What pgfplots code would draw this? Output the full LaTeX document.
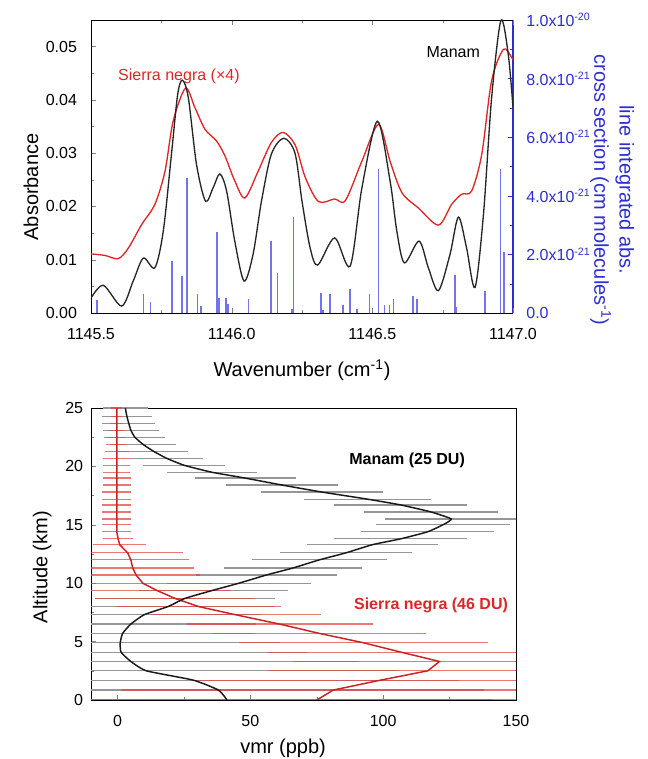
\documentclass[border=0pt]{standalone}
\usepackage{fontspec}
\setmainfont{Liberation Sans}
\usepackage{pgfplots}
\usepackage{pgfplotstable}
\pgfplotsset{compat=1.18}

\definecolor{mred}{RGB}{222,38,38}
\definecolor{mblue}{RGB}{45,45,210}
\definecolor{stick}{RGB}{115,115,240}
\definecolor{barred}{RGB}{228,72,72}
\definecolor{bargray}{RGB}{150,150,150}

% altitude profiles: alt, Manam vmr, Manam err, Sierra negra vmr, Sierra negra err
\pgfplotstableread{
alt   man    me    sn     se
25.0  2.9    8.5   -0.3   2
24.3  3.5    9.3   -0.3   2
23.7  4.2    10    -0.3   2.5
23.1  5.0    10.5  -0.3   3
22.5  6.5    11.5  -0.3   3.5
21.9  9.5    12.5  -0.3   4
21.3  13.5   13    -0.3   4.5
20.7  18.4   13.8  -0.3   5
20.1  25     15.5  -0.3   5
19.5  35.5   17    -0.3   5
19.0  48     19    -0.3   5.2
18.4  62     21    -0.3   5.3
17.8  77     23    -0.3   5.5
17.2  94     24    -0.3   5.5
16.7  106.6  25    -0.3   5.5
16.1  118    25.4  -0.3   5.5
15.5  125.6  25    -0.3   5.5
15.0  122.5  25.3  -0.3   5.5
14.4  116.7  25    -0.3   5.5
13.8  106.6  25    0.2    5.5
13.3  96     24.7  0.8    10
12.6  86     25    3.8    21
12.0  76     25.5  5.0    22
11.3  66     26    5.7    23
10.7  56     26.5  7.0    24
10.0  45.7   27    9.5    26
9.4   36     28    14.6   28
8.7   25.4   34    21.6   30
8.0   19     40    30.5   31
7.3   10     44    44.4   32
6.5   5      47    61     35
5.7   1.9    50    76     40
4.9   1.0    60    92.6   47
4.1   1.3    70    106.6  50
3.3   5      86    121.2  55
2.5   10.8   95    116.8  60
1.7   28.5   100   99     70
0.85  38     100   81.2   80
0.0   41.2   100   75     85
}\prof

\begin{document}
\begin{tikzpicture}
\useasboundingbox (0,0) rectangle (485.25pt,569.25pt);

% ---- top panel: line strengths (right axis) ----
\begin{axis}[
  at={(68.25pt,334.5pt)}, anchor=south west,
  width=316.5pt, height=219.75pt, scale only axis,
  xmin=1145.5, xmax=1147.0, ymin=0, ymax=10,
  axis x line=none, axis y line*=right,
  ytick pos=right, yticklabel pos=right,
  ytick={0,2,4,6,8,10}, minor ytick={1,3,5,7,9},
  yticklabels={0.0,2.0x10\textsuperscript{-21},4.0x10\textsuperscript{-21},6.0x10\textsuperscript{-21},8.0x10\textsuperscript{-21},1.0x10\textsuperscript{-20}},
  tick align=inside, major tick length=4pt, minor tick length=2.5pt,
  y axis line style={-, mblue, line width=0.8pt},
  every tick/.append style={mblue},
  yticklabel style={mblue, font=\fontsize{12}{14}\selectfont, xshift=6.5pt},
  ylabel={line integrated abs.\\cross section (cm molecules\textsuperscript{-1})},
  ylabel style={mblue, font=\fontsize{15}{19}\selectfont, align=center,
    at={(axis description cs:1.235,0.42)}, anchor=center, rotate=180},
]
\addplot[ycomb, stick, mark=none, line width=1.2pt] coordinates {
(1145.522,0.43) (1145.687,0.66) (1145.711,0.38) (1145.788,1.77) (1145.824,1.26)
(1145.842,4.62) (1145.879,0.66) (1145.891,0.24) (1145.948,2.76) (1145.956,0.51)
(1145.980,0.51) (1145.986,0.32) (1146.060,0.49) (1146.140,2.45) (1146.163,1.38)
(1146.215,0.15) (1146.220,3.28) (1146.317,0.69) (1146.324,0.10) (1146.350,0.66)
(1146.395,0.26) (1146.421,0.83) (1146.445,0.15) (1146.490,0.66) (1146.522,4.93)
(1146.543,0.28) (1146.561,0.28) (1146.575,0.49) (1146.644,0.58) (1146.658,0.49)
(1146.794,1.29) (1146.797,0.20) (1146.900,0.74) (1146.956,4.93) (1146.968,2.08)
};
\end{axis}

% ---- top panel: spectra ----
\begin{axis}[
  at={(68.25pt,334.5pt)}, anchor=south west,
  width=316.5pt, height=219.75pt, scale only axis,
  xmin=1145.5, xmax=1147.0, ymin=0, ymax=0.055,
  axis y line*=left, y axis line style={-},
  xtick={1145.5,1146,1146.5,1147}, minor xtick={1145.75,1146.25,1146.75},
  ytick={0,0.01,0.02,0.03,0.04,0.05}, minor ytick={0.005,0.015,0.025,0.035,0.045},
  xtick pos=both, ytick pos=left,
  tick align=inside, major tick length=4pt, minor tick length=2.5pt,
  scaled x ticks=false, scaled y ticks=false,
  /pgf/number format/assume math mode=true,
  tick label style={font=\fontsize{12}{14}\selectfont},
  xticklabel style={/pgf/number format/fixed, /pgf/number format/fixed zerofill,
    /pgf/number format/precision=1, /pgf/number format/1000 sep={}, yshift=-8pt},
  yticklabel style={/pgf/number format/fixed, /pgf/number format/fixed zerofill,
    /pgf/number format/precision=2, xshift=-7pt},
  xlabel={Wavenumber (cm\textsuperscript{-1})},
  ylabel={Absorbance},
  label style={font=\fontsize{15}{18}\selectfont},
  xlabel style={at={(axis description cs:0.5,-0.195)}, anchor=center},
  ylabel style={at={(axis description cs:-0.142,0.43)}, anchor=center},
]
\addplot[mred, mark=none, line width=1pt, smooth, tension=0.5] coordinates {
(1145.500,0.0111) (1145.550,0.0108) (1145.597,0.0102) (1145.633,0.0122)
(1145.680,0.0166) (1145.727,0.0204) (1145.763,0.0266) (1145.792,0.0360)
(1145.836,0.0422) (1145.869,0.0386) (1145.905,0.0345) (1145.946,0.0323)
(1145.976,0.0295) (1146.011,0.0248) (1146.047,0.0216) (1146.094,0.0266)
(1146.141,0.0320) (1146.183,0.0339) (1146.226,0.0315) (1146.262,0.0254)
(1146.309,0.0209) (1146.366,0.0214) (1146.404,0.0211) (1146.463,0.0285)
(1146.522,0.0354) (1146.563,0.0285) (1146.605,0.0226) (1146.664,0.0197)
(1146.735,0.0165) (1146.782,0.0204) (1146.818,0.0223) (1146.853,0.0229)
(1146.889,0.0298) (1146.924,0.0436) (1146.966,0.0495) (1146.995,0.0480)
(1147.000,0.0475)
};
\addplot[black!85, mark=none, line width=1pt, smooth, tension=0.5] coordinates {
(1145.500,0.0028) (1145.544,0.0052) (1145.609,0.0013) (1145.650,0.0060)
(1145.686,0.0103) (1145.727,0.0085) (1145.757,0.0154) (1145.786,0.0298)
(1145.808,0.0410) (1145.825,0.0437) (1145.846,0.0404) (1145.875,0.0279)
(1145.907,0.0210) (1145.934,0.0235) (1145.958,0.0261) (1145.982,0.0229)
(1146.011,0.0135) (1146.044,0.0060) (1146.076,0.0110) (1146.106,0.0210)
(1146.141,0.0298) (1146.185,0.0328) (1146.225,0.0300) (1146.250,0.0210)
(1146.279,0.0122) (1146.306,0.0090) (1146.366,0.0141) (1146.421,0.0088)
(1146.463,0.0235) (1146.518,0.0360) (1146.563,0.0248) (1146.587,0.0154)
(1146.614,0.0094) (1146.666,0.0135) (1146.699,0.0085) (1146.735,0.0042)
(1146.776,0.0110) (1146.806,0.0180) (1146.835,0.0122) (1146.865,0.0048)
(1146.895,0.0185) (1146.924,0.0404) (1146.957,0.0549) (1146.983,0.0486)
(1147.000,0.0386)
};
\node[mred, anchor=west, font=\fontsize{12}{14}\selectfont] at (axis cs:1145.58,0.0445) {Sierra negra (×4)};
\node[anchor=west, font=\fontsize{12}{14}\selectfont] at (axis cs:1146.676,0.0489) {Manam};
\end{axis}

% ---- bottom panel: profiles ----
\begin{axis}[
  at={(68.25pt,44.25pt)}, anchor=south west,
  width=318.75pt, height=219pt, scale only axis,
  xmin=-10, xmax=150, ymin=0, ymax=25,
  xtick={0,50,100,150}, minor xtick={25,75,125},
  ytick={0,5,10,15,20,25}, minor ytick={2.5,7.5,12.5,17.5,22.5},
  tick pos=left, tick align=inside, major tick length=4pt, minor tick length=2.5pt,
  /pgf/number format/assume math mode=true,
  tick label style={font=\fontsize{12}{14}\selectfont},
  xticklabel style={yshift=-8pt},
  yticklabel style={xshift=-2.4pt},
  xlabel={vmr (ppb)}, ylabel={Altitude (km)},
  label style={font=\fontsize{15}{18}\selectfont},
  xlabel style={at={(axis description cs:0.452,-0.164)}, anchor=center},
  ylabel style={at={(axis description cs:-0.115,0.455)}, anchor=center},
]
\addplot[draw=none, mark=none, error bars/.cd, x dir=both, x explicit, error mark=none,
  error bar style={draw=bargray, line width=0.9pt}]
  table[x=man, y=alt, x error=me] {\prof};
\addplot[draw=none, mark=none, error bars/.cd, x dir=both, x explicit, error mark=none,
  error bar style={draw=barred, line width=0.9pt, opacity=0.75}]
  table[x=sn, y=alt, x error=se] {\prof};
\addplot[mred!90!black, mark=none, line width=1.1pt] table[x=sn, y=alt] {\prof};
\addplot[black!90, mark=none, line width=1.1pt, smooth, tension=0.3] table[x=man, y=alt] {\prof};
\node[font=\bfseries\fontsize{12}{14}\selectfont] at (axis cs:109,20.55) {Manam (25 DU)};
\node[mred, font=\bfseries\fontsize{12}{14}\selectfont] at (axis cs:118,8.07) {Sierra negra (46 DU)};
\end{axis}
\end{tikzpicture}
\end{document}
